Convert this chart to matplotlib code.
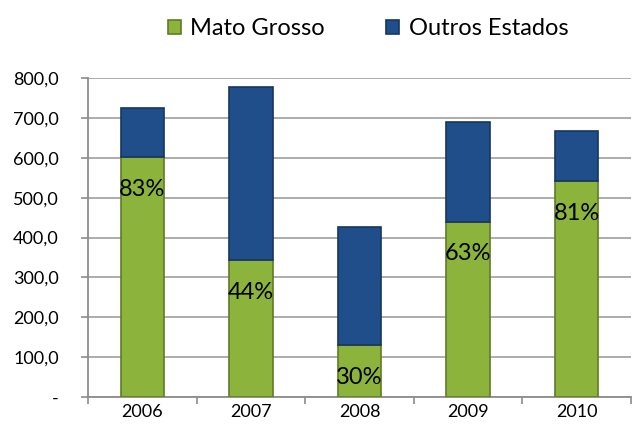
import matplotlib
matplotlib.use("Agg")
import matplotlib.pyplot as plt
from matplotlib.ticker import FuncFormatter, FixedLocator
import numpy as np

years = ["2006", "2007", "2008", "2009", "2010"]
mato_grosso = [601, 343, 130, 440, 541]
outros_estados = [123, 434, 297, 249, 126]
pct_labels = ["83%", "44%", "30%", "63%", "81%"]
y_ticks = [0, 100, 200, 300, 400, 500, 600, 700, 800]

plt.rcParams['font.family'] = ['Lato', 'DejaVu Sans']

fig = plt.figure(figsize=(6.35, 4.42), dpi=100)
ax = fig.add_axes([0.1386, 0.1018, 0.855, 0.7217])

x = np.arange(len(years))
mg = np.array(mato_grosso, dtype=float)
oe = np.array(outros_estados, dtype=float)
green = "#8cb33c"
blue = "#1f4e8a"
w = 0.40
b1 = ax.bar(x, mg, width=w, color=green, edgecolor="#5f7c24", linewidth=1.2, zorder=3, label="Mato Grosso")
b2 = ax.bar(x, oe, bottom=mg, width=w, color=blue, edgecolor="#16365f", linewidth=1.2, zorder=3, label="Outros Estados")

for xi, m, lab in zip(x, mg, pct_labels):
    ax.annotate(lab, xy=(xi, m), xytext=(0, -23), textcoords="offset points",
                ha="center", va="center", fontsize=17, color="black", zorder=5)

ax.set_xlim(-0.5, len(years) - 0.5)
ax.set_ylim(0, 800)
ax.yaxis.set_major_locator(FixedLocator(y_ticks))
ax.yaxis.set_major_formatter(FuncFormatter(lambda v, p: "-" if v == 0 else f"{v:,.1f}".replace(".", ",")))
ax.grid(axis="y", color="#a6a6a6", linewidth=1.3, zorder=0)
ax.set_axisbelow(True)

ax.set_xticks(x)
ax.set_xticklabels(years)
ax.set_xticks(np.arange(-0.5, len(years), 1.0), minor=True)
ax.tick_params(axis="x", which="major", length=0, pad=5, labelsize=13)
ax.tick_params(axis="x", which="minor", length=5, color="#8c8c8c", width=1.2)
ax.tick_params(axis="y", length=5, color="#8c8c8c", width=1.2, labelsize=13, pad=16)

for s in ["top", "right"]:
    ax.spines[s].set_visible(False)
for s in ["left", "bottom"]:
    ax.spines[s].set_color("#8c8c8c")
    ax.spines[s].set_linewidth(1.3)

fig.legend(handles=[b1, b2], labels=["Mato Grosso", "Outros Estados"], loc="center",
           bbox_to_anchor=(0.58, 0.935), ncol=2, frameon=False, fontsize=17,
           handlelength=0.55, handleheight=0.55, handletextpad=0.4, columnspacing=2.6)

fig.savefig("out.png", dpi=100)
